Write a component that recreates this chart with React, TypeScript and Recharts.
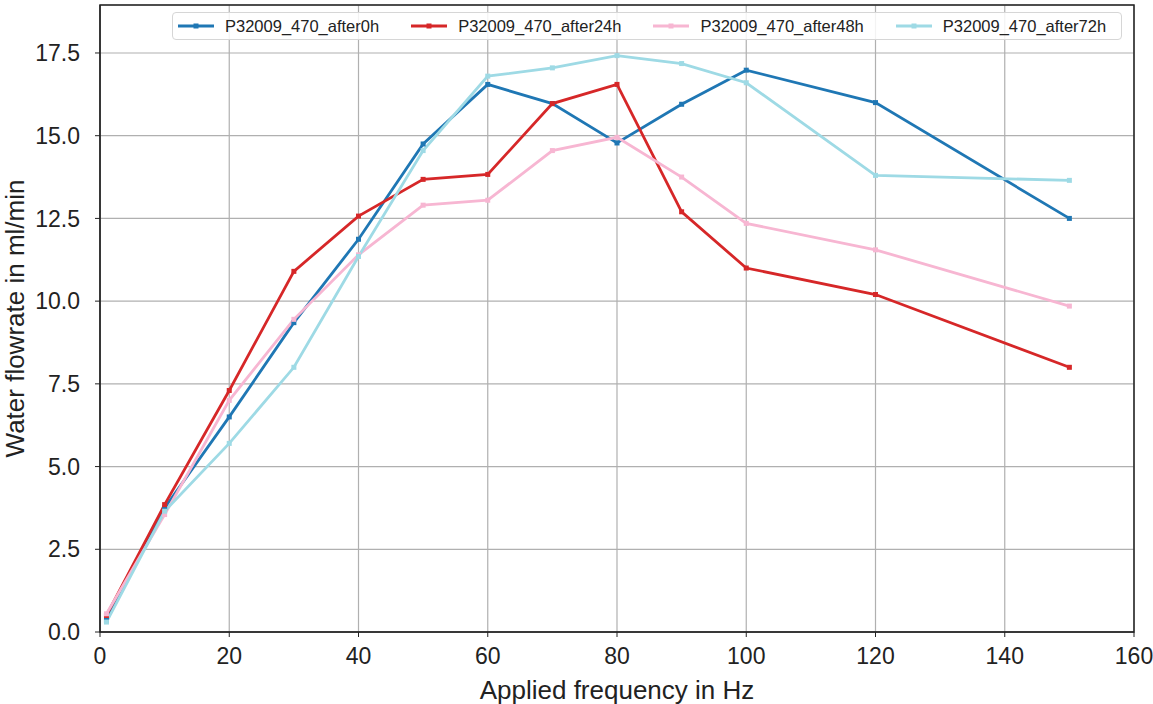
import React from "react";
import {
  LineChart,
  Line,
  XAxis,
  YAxis,
  CartesianGrid,
  ReferenceArea,
} from "recharts";

const frequencies = [1, 10, 20, 30, 40, 50, 60, 70, 80, 90, 100, 120, 150];
const after0h = [0.35, 3.75, 6.5, 9.35, 11.87, 14.75, 16.55, 15.97, 14.78, 15.95, 16.98, 16.0, 12.5];
const after24h = [0.5, 3.85, 7.3, 10.9, 12.57, 13.68, 13.83, 15.97, 16.55, 12.7, 11.0, 10.2, 8.0];
const after48h = [0.55, 3.55, 7.0, 9.45, 11.4, 12.9, 13.05, 14.55, 14.95, 13.75, 12.35, 11.55, 9.85];
const after72h = [0.3, 3.65, 5.7, 8.0, 11.35, 14.55, 16.8, 17.05, 17.42, 17.18, 16.6, 13.8, 13.65];

const xTicks = [0, 20, 40, 60, 80, 100, 120, 140, 160];
const yTicks = [0, 2.5, 5, 7.5, 10, 12.5, 15, 17.5];

const series = [
  { key: "a0", name: "P32009_470_after0h", color: "#1f77b4" },
  { key: "a24", name: "P32009_470_after24h", color: "#d62728" },
  { key: "a48", name: "P32009_470_after48h", color: "#f7b6d2" },
  { key: "a72", name: "P32009_470_after72h", color: "#9edae5" },
];

const data = frequencies.map((f, i) => ({
  freq: f,
  a0: after0h[i],
  a24: after24h[i],
  a48: after48h[i],
  a72: after72h[i],
}));

const FONT = "'Liberation Sans', Arial, sans-serif";

function squareDot(color: string) {
  return (p: any) => (
    <rect
      key={`d-${p.index}`}
      x={p.cx - 2.5}
      y={p.cy - 2.5}
      width={5}
      height={5}
      fill={color}
    />
  );
}

function LegendBox() {
  return (
    <div
      style={{
        position: "absolute",
        left: 172,
        top: 12,
        width: 950,
        height: 28,
        boxSizing: "border-box",
        border: "1px solid #d6d6d6",
        borderRadius: 4,
        background: "rgba(255,255,255,0.85)",
        display: "flex",
        alignItems: "center",
        paddingLeft: 5,
        fontFamily: FONT,
        fontSize: 16.5,
        color: "#222",
      }}
    >
      {series.map((s) => (
        <div key={s.key} style={{ display: "flex", alignItems: "center", marginRight: 32 }}>
          <svg width={36} height={10} style={{ marginRight: 11 }}>
            <line x1={0} y1={5} x2={36} y2={5} stroke={s.color} strokeWidth={2.8} />
            <rect x={15.5} y={2.5} width={5} height={5} fill={s.color} />
          </svg>
          <span>{s.name}</span>
        </div>
      ))}
    </div>
  );
}

export default function App() {
  return (
    <div style={{ position: "absolute", left: 0, top: 0, width: 1153, height: 704, background: "#fff" }}>
      <LineChart
        width={1153}
        height={704}
        data={data}
        margin={{ top: 5, right: 19, bottom: 0, left: 0 }}
        style={{ fontFamily: FONT }}
      >
        <CartesianGrid stroke="#b0b0b0" strokeWidth={1.2} />
        <ReferenceArea x1={0} x2={160} y1={0} y2={18.95} fill="none" stroke="#222" strokeWidth={1.5} />
        <XAxis
          dataKey="freq"
          type="number"
          domain={[0, 160]}
          ticks={xTicks}
          height={72}
          tickSize={5}
          tickMargin={11}
          stroke="#222"
          tick={{ fill: "#222", fontSize: 23 }}
          label={(props: any) => {
            const vb = props.viewBox;
            return (
              <text
                x={vb.x + vb.width / 2}
                y={699}
                textAnchor="middle"
                fontSize={26}
                fill="#222"
                fontFamily={FONT}
              >
                Applied frequency in Hz
              </text>
            );
          }}
        />
        <YAxis
          type="number"
          domain={[0, 18.95]}
          ticks={yTicks}
          width={100}
          tickSize={5}
          tickMargin={15}
          stroke="#222"
          tick={{ fill: "#222", fontSize: 23 }}
          tickFormatter={(v: number) => v.toFixed(1)}
          label={(props: any) => {
            const vb = props.viewBox;
            return (
              <text
                transform={`translate(24, ${vb.y + vb.height / 2}) rotate(-90)`}
                textAnchor="middle"
                fontSize={26}
                fill="#222"
                fontFamily={FONT}
              >
                Water flowrate in ml/min
              </text>
            );
          }}
        />
        {series.map((s) => (
          <Line
            key={s.key}
            dataKey={s.key}
            name={s.name}
            stroke={s.color}
            strokeWidth={2.8}
            dot={squareDot(s.color)}
            activeDot={false}
            isAnimationActive={false}
          />
        ))}
      </LineChart>
      <LegendBox />
    </div>
  );
}
